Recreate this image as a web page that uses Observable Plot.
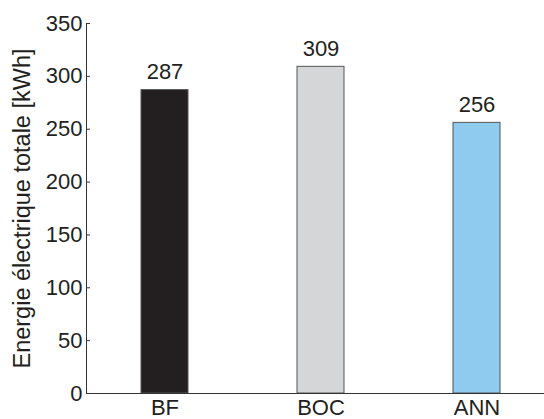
<!DOCTYPE html>
<html>
<head>
<meta charset="utf-8">
<script src="https://cdn.jsdelivr.net/npm/d3@7"></script>
<script src="https://cdn.jsdelivr.net/npm/@observablehq/plot@0.6"></script>
<style>
  html, body { margin: 0; padding: 0; background: #fff; }
  #chart svg { display: block; }
</style>
</head>
<body>
<div id="chart"></div>
<script>
const categories = ["BF", "BOC", "ANN"];
const values = [287, 309, 256];
const barColors = ["#231f20", "#d5d6d8", "#8ecbee"];
const yTicks = [0, 50, 100, 150, 200, 250, 300, 350];
const yLabel = "Energie électrique totale [kWh]";

const data = categories.map((c, i) => ({cat: c, value: values[i]}));

const font = "Liberation Sans, Arial, Helvetica, sans-serif";
const ink = "#231f20";

const chart = Plot.plot({
  width: 544,
  height: 419,
  marginLeft: 86,
  marginRight: 0,
  marginTop: 23,
  marginBottom: 26,
  style: {fontFamily: font, fontSize: "22px", color: ink, background: "#fff"},
  x: {domain: categories, range: [86, 554], paddingInner: 0.7, paddingOuter: 0.35},
  y: {domain: [0, 350]},
  color: {domain: categories, range: barColors},
  marks: [
    Plot.barY(data, {x: "cat", y: "value", fill: "cat", stroke: "#555", strokeWidth: 1}),
    Plot.text(data, {x: "cat", y: "value", text: d => String(d.value), dy: -11, lineAnchor: "bottom", fontSize: 22, fill: ink}),
    Plot.axisX({tickSize: 0, tickPadding: 5.5, label: null, fontSize: 22, fill: ink}),
    Plot.axisY({ticks: yTicks, tickSize: 0, tickPadding: 4, fontSize: 22, fill: ink, label: null}),
    Plot.axisY({ticks: yTicks, tickSize: 0, text: null, fontSize: 23.5, fill: ink, dy: 5,
      label: yLabel, labelAnchor: "center", labelArrow: "none", labelOffset: 73}),
    Plot.axisY({ticks: yTicks, tickSize: -4, text: null, label: null, stroke: "#333"}),
    Plot.frame({anchor: "left", stroke: "#333"}),
    Plot.ruleY([0], {stroke: "#333"})
  ]
});
document.getElementById("chart").appendChild(chart);
</script>
</body>
</html>
